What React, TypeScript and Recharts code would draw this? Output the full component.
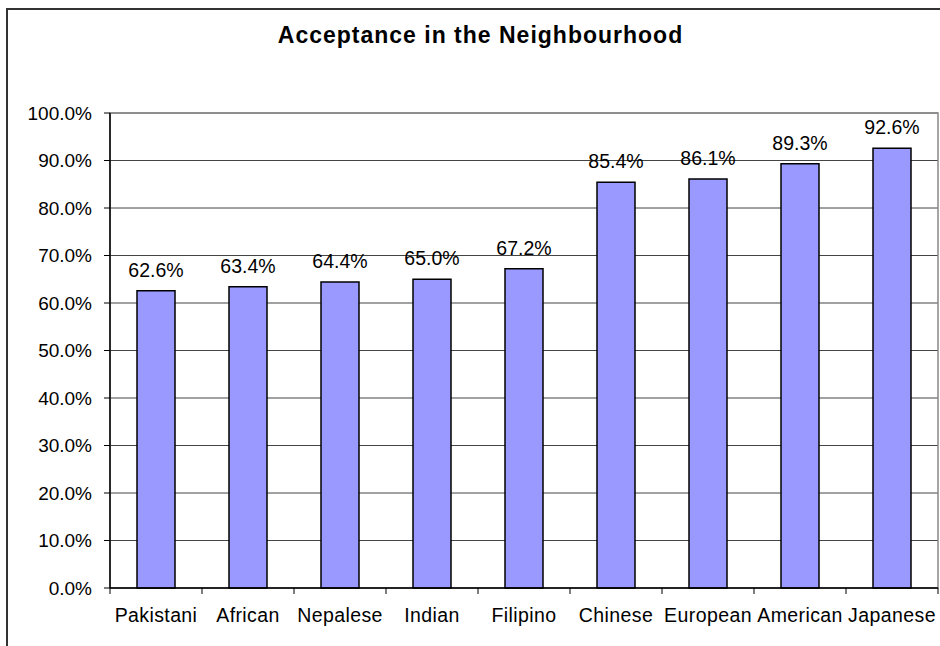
import { Bar, BarChart, CartesianGrid, LabelList, ReferenceArea, XAxis, YAxis } from "recharts";

const groups = ["Pakistani", "African", "Nepalese", "Indian", "Filipino", "Chinese", "European", "American", "Japanese"];
const acceptance = [62.6, 63.4, 64.4, 65.0, 67.2, 85.4, 86.1, 89.3, 92.6];
const yTicks = [0, 10, 20, 30, 40, 50, 60, 70, 80, 90, 100];

const data = groups.map((name, i) => ({ name, value: acceptance[i] }));

const FONT = '"Liberation Sans", Arial, Helvetica, sans-serif';
const X_MARGIN = 20;

function CategoryTick(props: any) {
  const { x, y, payload, index } = props;
  const off = Number(payload?.offset ?? 0);
  const axisY = y - X_MARGIN;
  return (
    <g>
      <line x1={x - off} x2={x - off} y1={axisY} y2={axisY + 6} stroke="#000" />
      {index === groups.length - 1 && (
        <line x1={x + off} x2={x + off} y1={axisY} y2={axisY + 6} stroke="#000" />
      )}
      <text x={x} y={y} dy={14} textAnchor="middle" fill="#000" fontSize={19.5} letterSpacing={0.4} fontFamily={FONT}>
        {payload.value}
      </text>
    </g>
  );
}

export default function App() {
  return (
    <div
      style={{
        position: "absolute",
        left: 0,
        top: 0,
        width: 940,
        height: 646,
        overflow: "hidden",
        background: "#fff",
        fontFamily: FONT,
      }}
    >
      <div
        style={{
          position: "absolute",
          left: 6,
          top: 8,
          width: 1000,
          height: 1000,
          border: "2px solid #333",
        }}
      />
      <div
        style={{
          position: "absolute",
          left: 0,
          top: 24,
          width: 961,
          textAlign: "center",
          fontSize: 23,
          lineHeight: "23px",
          fontWeight: 700,
          letterSpacing: 1,
          color: "#000",
        }}
      >
        Acceptance in the Neighbourhood
      </div>
      <div style={{ position: "absolute", left: 0, top: 0 }}>
        <BarChart
          width={940}
          height={646}
          data={data}
          margin={{ top: 113, right: 2, bottom: 18, left: 10 }}
          barSize={38}
        >
          <CartesianGrid vertical={false} stroke="#444" />
          <ReferenceArea xAxisId="cat" y1={0} y2={100} fill="none" stroke="#888" strokeWidth={1.5} />
          <XAxis
            xAxisId="cat"
            dataKey="name"
            height={40}
            interval={0}
            tickLine={false}
            tickSize={0}
            tickMargin={X_MARGIN}
            axisLine={{ stroke: "#000", strokeWidth: 1.5 }}
            tick={(p: any) => <CategoryTick {...p} />}
          />
          <YAxis
            width={100}
            domain={[0, 100]}
            ticks={yTicks}
            interval={0}
            tickSize={6}
            tickMargin={12}
            axisLine={{ stroke: "#000", strokeWidth: 1.5 }}
            tickLine={{ stroke: "#000" }}
            tick={{ fill: "#000", fontSize: 19, fontFamily: FONT }}
            tickFormatter={(v: number) => `${v.toFixed(1)}%`}
          />
          <Bar
            xAxisId="cat"
            dataKey="value"
            fill="#9999FF"
            stroke="#000"
            strokeWidth={1.5}
            isAnimationActive={false}
          >
            <LabelList
              dataKey="value"
              position="top"
              offset={14}
              fill="#000"
              fontSize={19.5}
              fontFamily={FONT}
              formatter={(v: any) => `${Number(v).toFixed(1)}%`}
            />
          </Bar>
        </BarChart>
      </div>
    </div>
  );
}
